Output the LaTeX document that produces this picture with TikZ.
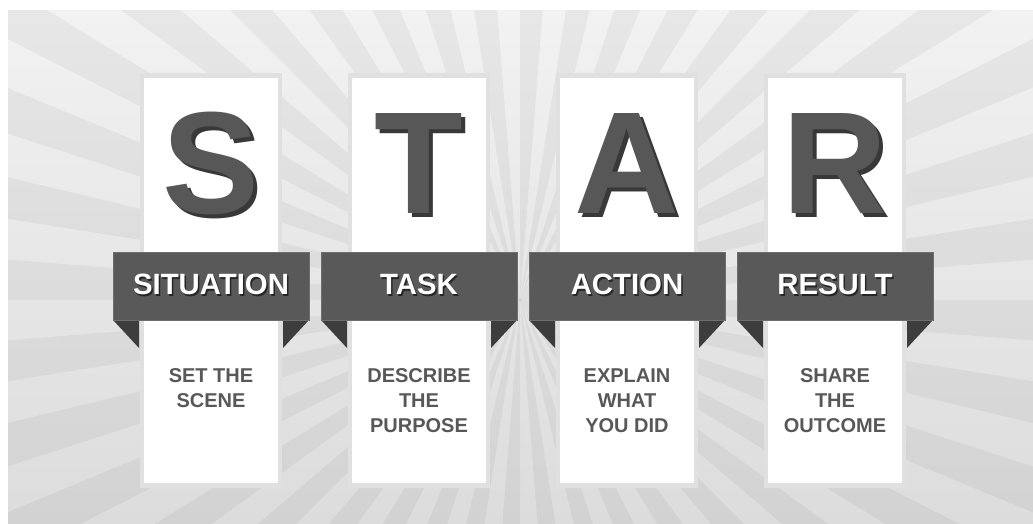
\documentclass[tikz,border=0pt]{standalone}
\usepackage{fontspec}
\setmainfont{Liberation Sans}

\definecolor{lettergray}{HTML}{575757}
\definecolor{lettershade}{HTML}{383838}
\definecolor{bannergray}{HTML}{595959}
\definecolor{bannerline}{HTML}{6E6E6E}
\definecolor{tailgray}{HTML}{3D3D3D}
\definecolor{bodygray}{HTML}{585858}
\definecolor{rimgray}{HTML}{E0E0E0}
\definecolor{bgtop}{HTML}{F2F2F2}
\definecolor{bgbottom}{HTML}{DCDCDC}

\begin{document}
\begin{tikzpicture}[x=0.75pt,y=0.75pt,yscale=-1,xscale=1,
  bigletter/.style={font=\fontsize{109}{109}\selectfont\bfseries, text=lettergray, inner sep=0pt, anchor=base},
  bigshade/.style={bigletter, text=lettershade},
  bannertext/.style={font=\fontsize{22}{22}\selectfont\bfseries, text=white, inner sep=0pt, anchor=base},
  bannershade/.style={bannertext, text=black!85},
  bodytext/.style={font=\fontsize{15}{19}\selectfont\bfseries, text=bodygray, align=center, inner sep=0pt, anchor=north},
  banner/.style={fill=bannergray, draw=bannerline, line width=0.6pt},
  tail/.style={fill=tailgray},
  rim/.style={fill=rimgray},
  ray/.style={fill=black, fill opacity=0.045},
]
\useasboundingbox (0,0) rectangle (1033,524);

%Background with sunburst
\shade [top color=bgtop, bottom color=bgbottom] (8,11) rectangle (1033,524);
\begin{scope}
\clip (8,11) rectangle (1033,524);
\foreach \a in {0,9,...,351}
  \fill [ray] (520,300) -- +(\a:1200) -- +(\a+4.5:1200) -- cycle;
\end{scope}

%Card S
\fill [rim] (140,73) rectangle (282,488);
\fill [white] (144,78) rectangle (278,483);
\fill [tail] (113,320) -- (139,320) -- (139,348) -- cycle;
\fill [tail] (283,320) -- (309,320) -- (283,348) -- cycle;
\draw [banner] (113,252) rectangle (309,320);
%Card T
\fill [rim] (348,73) rectangle (490,488);
\fill [white] (352,78) rectangle (486,483);
\fill [tail] (321,320) -- (347,320) -- (347,348) -- cycle;
\fill [tail] (491,320) -- (517,320) -- (491,348) -- cycle;
\draw [banner] (321,252) rectangle (517,320);
%Card A
\fill [rim] (556,73) rectangle (698,488);
\fill [white] (560,78) rectangle (694,483);
\fill [tail] (529,320) -- (555,320) -- (555,348) -- cycle;
\fill [tail] (699,320) -- (725,320) -- (699,348) -- cycle;
\draw [banner] (529,252) rectangle (725,320);
%Card R
\fill [rim] (764,73) rectangle (906,488);
\fill [white] (768,78) rectangle (902,483);
\fill [tail] (737,320) -- (763,320) -- (763,348) -- cycle;
\fill [tail] (907,320) -- (933,320) -- (907,348) -- cycle;
\draw [banner] (737,252) rectangle (933,320);

% Big letters
\node [bigshade] (sShade) at (215,218) {S};
\node [bigletter] (sLetter) at (211,214) {S};
\node [bigshade] (tShade) at (423,218) {T};
\node [bigletter] (tLetter) at (419,214) {T};
\node [bigshade] (aShade) at (631,218) {A};
\node [bigletter] (aLetter) at (627,214) {A};
\node [bigshade] (rShade) at (839,218) {R};
\node [bigletter] (rLetter) at (835,214) {R};

% Banner labels
\node [bannershade] (sitShade) at (212.5,296.5) {SITUATION};
\node [bannertext] (situation) at (211,295) {SITUATION};
\node [bannershade] (taskShade) at (420.5,296.5) {TASK};
\node [bannertext] (task) at (419,295) {TASK};
\node [bannershade] (actShade) at (628.5,296.5) {ACTION};
\node [bannertext] (action) at (627,295) {ACTION};
\node [bannershade] (resShade) at (836.5,296.5) {RESULT};
\node [bannertext] (result) at (835,295) {RESULT};

% Card texts
\node [bodytext] (sitText) at (211,368) {SET THE\\SCENE};
\node [bodytext] (taskText) at (419,368) {DESCRIBE\\THE\\PURPOSE};
\node [bodytext] (actText) at (627,368) {EXPLAIN\\WHAT\\YOU DID};
\node [bodytext] (resText) at (835,368) {SHARE\\THE\\OUTCOME};

\end{tikzpicture}
\end{document}
